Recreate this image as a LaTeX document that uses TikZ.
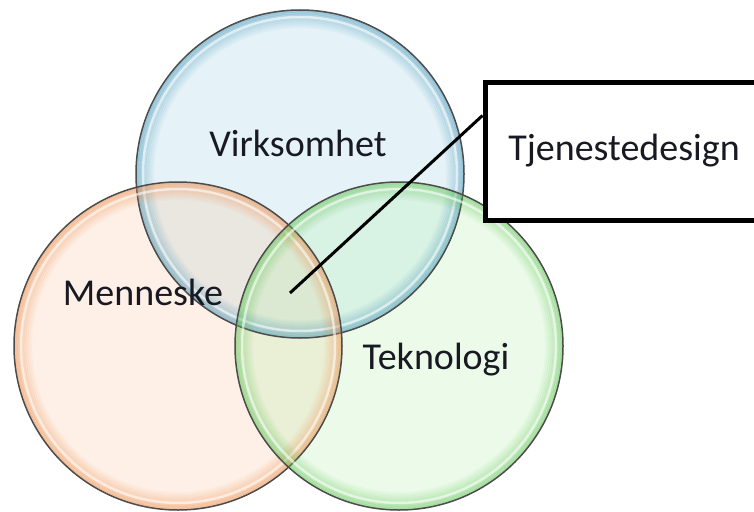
\documentclass[tikz,border=0pt]{standalone}
\usepackage{fontspec}
\setmainfont{Carlito}
\usetikzlibrary{positioning,calc}
\definecolor{vblue}{RGB}{160,210,228}
\definecolor{vbluerim}{RGB}{60,145,180}
\definecolor{morange}{RGB}{250,200,165}
\definecolor{morangerim}{RGB}{235,135,65}
\definecolor{tgreen}{RGB}{185,240,175}
\definecolor{tgreenrim}{RGB}{85,190,75}
\definecolor{txt}{RGB}{25,25,35}
\tikzset{
  fig/.style={x=1pt,y=-1pt,font=\fontsize{38}{44}\selectfont,text=txt},
  bubble/.style={circle,minimum size=328pt,inner sep=0pt,fill opacity=0.28},
  edge/.style={draw=black!70,line width=1.5pt},
  lbl/.style={inner sep=1pt},
  callout/.style={draw,line width=5pt,fill=white,minimum width=278pt,
                  minimum height=138pt,inner sep=0pt},
  ln/.style={line width=3pt},
}

\begin{document}
\begin{tikzpicture}[fig]
\useasboundingbox (0,0) rectangle (754,511);
\clip (0,0) rectangle (754,511);

% --- the three bubbles ---------------------------------------------------
\node[bubble,fill=vblue]   (virk) at (300,174) {};
\node[bubble,fill=morange] (menn) at (178,346) {};
\node[bubble,fill=tgreen]  (tekn) at (399,346) {};

% glossy rims: a soft band fading inwards, a white glint, the outline
\foreach \b/\c in {virk/vbluerim,menn/morangerim,tekn/tgreenrim}{
  \foreach \i in {0,...,8}
    \draw[\c,draw opacity={0.42*(1-\i/9)},line width=2.2pt]
      (\b) circle[radius={163-2*\i}];
  \draw[white,draw opacity=0.6,line width=2.5pt] (\b) circle[radius=157pt];
  \draw[edge] (\b) circle[radius=164pt];
}

\node[lbl] (virklbl) at (298,143) {Virksomhet};
\node[lbl] (mennlbl) at (143,292) {Menneske};
\node[lbl] (teknlbl) at (436,360) {Teknologi};

% --- callout -------------------------------------------------------------
\coordinate (hub) at (290,293);
\node[callout] (tjen) at (624,151) {Tjenestedesign};
\draw[ln] (hub) -- ([yshift=-36pt]tjen.north west);

\end{tikzpicture}
\end{document}
